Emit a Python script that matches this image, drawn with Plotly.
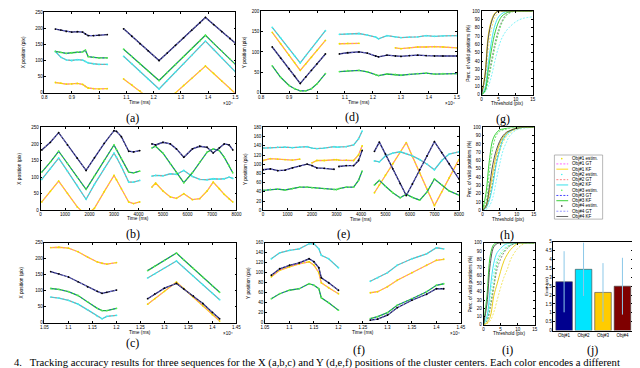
import plotly.graph_objects as go

W, H = 640, 368
FONT = "Liberation Sans"
SERIF = "Liberation Serif"

# ---------------- data ----------------
# Panel (a): X position vs time (x1e4 ms)
A_T = [0.84, 0.86, 0.88, 0.90, 0.92, 0.94, 0.95, 0.96, 0.98, 1.00, 1.03, None,
       1.09, 1.12, 1.15, 1.18, 1.22, 1.25, 1.28, 1.31, 1.34, 1.37, 1.39, 1.42, 1.45, 1.48, 1.50]
A_OBJ1 = [32, 30, 27, 28, 29, 26, 20, 15, 13, 12, 13, None,
          43, 25, 6, -13, -40, -23, 0, 23, 45, 68, 83, 60, 36, 13, -2]
A_OBJ2 = [128, 110, 102, 100, 103, 101, 97, 93, 90, 88, 88, None,
          113, 90, 66, 43, 12, 38, 64, 90, 116, 143, 160, 134, 108, 82, 65]
A_OBJ3 = [128, 125, 122, 124, 126, 127, 132, 112, 110, 108, 108, None,
          135, 113, 90, 68, 38, 63, 87, 112, 137, 161, 178, 153, 129, 104, 88]
A_OBJ4 = [197, 194, 190, 188, 189, 188, 182, 177, 177, 178, 180, None,
          198, 175, 152, 130, 100, 123, 147, 170, 194, 217, 233, 211, 189, 168, 153]

# Panel (d): Y position vs time (x1e4 ms)
D_T = [0.84, 0.87, 0.90, 0.92, 0.94, 0.96, 0.98, 1.00, 1.03, None,
       1.08, 1.11, 1.15, 1.18, 1.21, 1.22, 1.25, 1.28, 1.30, 1.33, 1.36, 1.39, 1.42, 1.45, 1.50]
D_OBJ1 = [148, 120, 92, 74, 55, 71, 87, 104, 128, None,
          120, 121, 121, None, None, None, None, 110, 108, 110, 112, 112, 113, 112, 110]
D_OBJ2 = [160, 134, 108, 90, 73, 91, 108, 126, 152, None,
          143, 144, 145, 141, 136, 132, 140, 137, 135, 136, 137, 140, 138, 139, 140]
D_OBJ3 = [66, 38, 18, 10, 5, 5, 10, 22, 47, None,
          52, 54, 55, 51, 44, 42, 46, 45, 43, 45, 47, 48, 46, 47, 47]
D_OBJ4 = [112, 85, 59, 41, 23, 39, 55, 71, 95, None,
          95, 98, 100, 97, 90, 88, 92, 90, 89, 91, 92, 91, 90, 90, 90]

# Panel (b): X position vs time (ms)
B_T = [50, 400, 740, 1100, 1500, 1860, 2200, 2600, 3000, 3100, 3300, 3600, 3800, 4050, None,
       4550, 4700, 5000, 5300, 5550, 5850, 6200, 6500, 6800, 7050, 7300, 7500, 7700, 7850]
B_OBJ1 = [25, 57, 88, 51, 10, -15, 6, 56, 105, 92, 65, 25, 20, 25, None,
          70, 82, 58, 40, 36, 50, 32, 35, 58, 85, 65, 48, 35, 25]
B_OBJ2 = [93, 125, 157, 118, 75, 33, 78, 125, 172, 160, 132, 85, 85, 90, None,
          103, 105, 104, 110, 108, 120, 102, 93, 92, 95, 94, 95, 100, 96]
B_OBJ3 = [115, 145, 178, 141, 100, 63, 103, 150, 197, 183, 156, 115, 113, 118, None,
          188, 193, 172, 140, 113, 83, 113, 145, 175, 185, 180, 160, 135, 113]
B_OBJ4 = [182, 205, 234, 197, 157, 120, 158, 202, 240, 238, 222, 178, 176, 180, None,
          200, 197, 205, 200, 185, 160, 185, 193, 190, 173, 188, 200, 197, 182]

# Panel (e): Y position vs time (ms)
E_T = [0, 300, 600, 900, 1200, 1500, 1800, 2000, 2200, 2500, 2900, 3000, 3100, 3400, 3700, 3900, 4050, None,
       4550, 4750, 5000, 5300, 5600, 5850, 6100, 6400, 6700, 7000, 7300, 7600, 8000]
E_OBJ1 = [108, 112, 111, 110, 109, 111, None, 103, 108, 108, 110, 110, 109, 109, 108, 120, 140, None,
          38, 55, 76, 101, 126, 147, 117, 81, 46, 10, 40, 70, 110]
E_OBJ2 = [135, 136, 137, 137, 136, 137, 138, 135, 134, 135, 138, 137, 137, 138, 142, 155, 172, None,
          107, 105, 118, 124, 127, 123, 118, 110, 100, 88, 108, 122, 127]
E_OBJ3 = [43, 45, 46, 44, 47, 50, 50, 49, 48, 47, 45, 45, 47, 50, 50, 65, 85, None,
          55, 65, 52, 38, 27, 35, 28, 22, 40, 68, 55, 42, 33]
E_OBJ4 = [88, 90, 86, 87, 92, 96, 100, 97, 92, 91, 89, None, 95, 97, 97, 108, 130, None,
          128, 148, 122, 90, 58, 32, 57, 88, 118, 149, 125, 101, 68]

# Panel (c): X position vs time (x1e4 ms)
C_T = [1.063, 1.08, 1.10, 1.12, 1.14, 1.16, 1.17, 1.18, 1.20, None,
       1.265, 1.28, 1.30, 1.325, 1.34, 1.36, 1.38, 1.40, 1.415]
C_OBJ1 = [235, 236, 233, 222, 205, 190, 186, 183, 188, None,
          58, 75, 98, 127, 107, 80, 53, 25, 5]
C_OBJ2 = [80, 77, 70, 58, 40, 20, 12, 20, 23, None,
          140, 153, 171, 193, 173, 146, 119, 92, 72]
C_OBJ3 = [107, 104, 97, 85, 65, 45, 38, 38, 45, None,
          163, 177, 195, 218, 197, 170, 142, 115, 95]
C_OBJ4 = [160, 153, 143, 128, 112, 98, 92, 95, 102, None,
          75, 90, 108, 123, 106, 84, 60, 32, 12]

# Panel (f): Y position vs time (x1e4 ms)
F_T = [1.063, 1.08, 1.10, 1.12, 1.14, 1.15, 1.16, 1.165, 1.18, 1.20, None,
       1.265, 1.28, 1.30, 1.32, 1.35, 1.38, 1.40, 1.415]
F_OBJ1 = [92, 105, 112, 118, 122, 115, 100, 80, 70, 58, None,
          60, 62, 72, 85, 100, 115, 125, 127]
F_OBJ2 = [128, 140, 145, 148, 158, 158, 148, 135, 128, 110, None,
          83, 90, 100, 115, 128, 138, 150, 148]
F_OBJ3 = [48, 58, 65, 68, 78, 75, 68, 50, 40, 25, None,
          8, 12, 20, 35, 48, 62, 75, 78]
F_OBJ4 = [95, 108, 115, 120, 128, 122, 110, 90, 80, 65, None,
          5, 7, 15, 30, 45, 57, 68, 68]

# CDF panels (g,h,i): % of valid positions vs threshold (pix)
THR = [0, 1, 2, 3, 4, 5, 6, 7, 8, 10, 12, 15]
G_OBJ1_KF = [0, 25, 72, 90, 98, 100, 100, 100, 100, 100, 100, 100]
G_OBJ1_EST = [0, 15, 55, 80, 93, 98, 100, 100, 100, 100, 100, 100]
G_OBJ2_KF = [0, 8, 38, 66, 84, 93, 97, 99, 100, 100, 100, 100]
G_OBJ2_EST = [0, 3, 10, 24, 42, 57, 68, 75, 80, 87, 91, 93]
G_OBJ3_KF = [0, 5, 30, 56, 75, 87, 94, 97, 99, 100, 100, 100]
G_OBJ3_EST = [0, 4, 18, 38, 58, 74, 86, 93, 97, 100, 100, 100]
G_OBJ4_KF = [0, 22, 68, 88, 97, 100, 100, 100, 100, 100, 100, 100]
G_OBJ4_EST = [0, 5, 22, 43, 63, 78, 88, 95, 98, 100, 100, 100]

H_OBJ1_KF = [0, 5, 22, 45, 66, 80, 88, 93, 96, 99, 100, 100]
H_OBJ1_EST = [0, 3, 15, 33, 55, 70, 82, 89, 93, 98, 100, 100]
H_OBJ2_KF = [0, 3, 12, 30, 55, 72, 85, 91, 95, 99, 100, 100]
H_OBJ2_EST = [0, 1, 5, 15, 35, 55, 72, 82, 90, 97, 99, 100]
H_OBJ3_KF = [0, 20, 60, 85, 93, 97, 98, 99, 100, 100, 100, 100]
H_OBJ3_EST = [0, 10, 45, 75, 90, 95, 97, 98, 99, 100, 100, 100]
H_OBJ4_KF = [0, 5, 28, 55, 72, 83, 90, 94, 96, 99, 100, 100]
H_OBJ4_EST = [0, 3, 15, 35, 58, 75, 86, 92, 95, 99, 100, 100]

I_OBJ1_KF = [0, 2, 10, 35, 50, 65, 78, 86, 92, 99, 100, 100]
I_OBJ1_EST = [0, 1, 5, 15, 30, 45, 58, 68, 80, 93, 99, 100]
I_OBJ2_KF = [0, 10, 45, 75, 88, 93, 97, 99, 100, 100, 100, 100]
I_OBJ2_EST = [0, 8, 35, 63, 80, 88, 93, 96, 98, 100, 100, 100]
I_OBJ3_KF = [0, 35, 85, 98, 100, 100, 100, 100, 100, 100, 100, 100]
I_OBJ3_EST = [0, 5, 25, 50, 75, 85, 90, 95, 97, 100, 100, 100]
I_OBJ4_KF = [0, 25, 75, 95, 99, 100, 100, 100, 100, 100, 100, 100]
I_OBJ4_EST = [0, 4, 20, 45, 68, 80, 88, 93, 97, 100, 100, 100]

# Panel (j): mean error per object
J_CATS = ["Obj#1", "Obj#2", "Obj#3", "Obj#4"]
J_MEAN = [2.75, 3.45, 2.15, 2.5]
J_STD = [1.72, 1.5, 1.65, 1.6]

# tick labels
TICK_A = [0.8, 0.9, 1.0, 1.1, 1.2, 1.3, 1.4, 1.5]
TICK_A_TXT = ["0.8", "0.9", "1", "1.1", "1.2", "1.3", "1.4", "1.5"]
TICK_C = [1.05, 1.1, 1.15, 1.2, 1.25, 1.3, 1.35, 1.4, 1.45]
TICK_C_TXT = ["1.05", "1.1", "1.15", "1.2", "1.25", "1.3", "1.35", "1.4", "1.45"]
TICK_B = [0, 1000, 2000, 3000, 4000, 5000, 6000, 7000, 8000]
TICK_THR = [0, 5, 10, 15]

LEG_NAMES = ["Obj#1 estim.", "Obj#1 GT", "Obj#1 KF",
             "Obj#2 estim.", "Obj#2 GT", "Obj#2 KF",
             "Obj#3 estim.", "Obj#3 GT", "Obj#3 KF",
             "Obj#4 estim.", "Obj#4 GT", "Obj#4 KF"]

# ---------------- styles ----------------
EST_COL = ["#ece000", "#40f0f0", "#55ee55", "#000000"]
GT_COL = ["#ff55ff", "#ff7070", "#3030ff", "#8888ff"]
KF_COL = ["#ffd400", "#22dde8", "#22cc22", "#1a1a55"]
CDF_KF = ["#e8c800", "#30e0f0", "#22cc22", "#404040"]
CDF_EST = ["#f0e040", "#60f0f8", "#44dd44", "#707070"]
BAR_COL = ["#00008f", "#00e5ff", "#ffcc00", "#7f0000"]

fig = go.Figure()


def ax_common():
    return dict(showline=True, linecolor="black", linewidth=0.6, mirror="ticks",
                ticks="inside", ticklen=2, tickwidth=0.5, tickcolor="black",
                showgrid=False, zeroline=False,
                tickfont=dict(family=FONT, size=4.5, color="black"))


def add_axes(n, xd, yd, xr, yr, xtv=None, xtt=None, ytv=None, ytt=None):
    xs = "xaxis" if n == 1 else f"xaxis{n}"
    ys = "yaxis" if n == 1 else f"yaxis{n}"
    xa = dict(ax_common(), domain=[xd[0] / W, xd[1] / W], range=xr,
              anchor="y" if n == 1 else f"y{n}")
    ya = dict(ax_common(), domain=[1 - yd[1] / H, 1 - yd[0] / H], range=yr,
              anchor="x" if n == 1 else f"x{n}")
    if xtv is not None:
        xa["tickvals"] = xtv
        if xtt is not None:
            xa["ticktext"] = xtt
    if ytv is not None:
        ya["tickvals"] = ytv
        if ytt is not None:
            ya["ticktext"] = ytt
    fig.update_layout({xs: xa, ys: ya})


def refs(n):
    return ("x" if n == 1 else f"x{n}", "y" if n == 1 else f"y{n}")


def add_tracks(n, t, objs):
    xr, yr = refs(n)
    for i, vals in enumerate(objs):
        fig.add_trace(go.Scatter(x=t, y=vals, mode="lines", xaxis=xr, yaxis=yr,
                                 line=dict(color=KF_COL[i], width=1.3),
                                 showlegend=False, hoverinfo="skip"))
        fig.add_trace(go.Scatter(x=t, y=vals, mode="lines", xaxis=xr, yaxis=yr,
                                 line=dict(color=GT_COL[i], width=0.8, dash="2px,2px"),
                                 showlegend=False, hoverinfo="skip"))
        fig.add_trace(go.Scatter(x=t, y=vals, mode="markers", xaxis=xr, yaxis=yr,
                                 marker=dict(color=EST_COL[i], size=1.8),
                                 showlegend=False, hoverinfo="skip"))


def add_cdf(n, kf, est):
    xr, yr = refs(n)
    order = [1, 2, 0, 3]
    for i in order:
        fig.add_trace(go.Scatter(x=THR, y=est[i], mode="lines", xaxis=xr, yaxis=yr,
                                 line=dict(color=CDF_EST[i], width=0.8, dash="2px,1.5px", shape="spline"),
                                 showlegend=False, hoverinfo="skip"))
    for i in order:
        fig.add_trace(go.Scatter(x=THR, y=kf[i], mode="lines", xaxis=xr, yaxis=yr,
                                 line=dict(color=CDF_KF[i], width=0.9, shape="spline"),
                                 showlegend=False, hoverinfo="skip"))


# panel geometry in pixels
PA = ((33, 227), (2, 84))
PD = ((253, 452), (1, 84))
PG = ((477, 529), (1, 86))
PB = ((29, 228), (119, 203))
PE = ((255, 454), (119, 203))
PH = ((478, 530), (119, 203))
PC = ((33, 228), (236, 317))
PF = ((257, 456), (236, 317))
PI = ((479, 531), (236, 319))
PJ = ((550, 631), (235, 325))

add_axes(1, *PA, [0.8, 1.5], [0, 250], TICK_A, TICK_A_TXT, [0, 50, 100, 150, 200, 250])
add_axes(2, *PD, [0.8, 1.5], [0, 200], TICK_A, TICK_A_TXT, [0, 50, 100, 150, 200])
add_axes(3, *PG, [0, 15], [0, 100], TICK_THR, None, list(range(0, 101, 10)))
add_axes(4, *PB, [0, 8000], [0, 250], TICK_B, None, [0, 50, 100, 150, 200, 250])
add_axes(5, *PE, [0, 8000], [0, 180], TICK_B, None, list(range(0, 181, 20)))
add_axes(6, *PH, [0, 15], [0, 100], TICK_THR, None, list(range(0, 101, 10)))
add_axes(7, *PC, [1.05, 1.45], [0, 250], TICK_C, TICK_C_TXT, [0, 50, 100, 150, 200, 250])
add_axes(8, *PF, [1.05, 1.45], [0, 160], TICK_C, TICK_C_TXT, list(range(0, 161, 20)))
add_axes(9, *PI, [0, 15], [0, 100], TICK_THR, None, list(range(0, 101, 10)))
add_axes(10, *PJ, [-0.55, 3.55], [0, 5], None, None,
         [0, 0.5, 1, 1.5, 2, 2.5, 3, 3.5, 4, 4.5, 5],
         ["0", "0.5", "1", "1.5", "2", "2.5", "3", "3.5", "4", "4.5", "5"])
fig.update_layout(xaxis10=dict(type="category", ticks=""))

add_tracks(1, A_T, [A_OBJ1, A_OBJ2, A_OBJ3, A_OBJ4])
add_tracks(2, D_T, [D_OBJ1, D_OBJ2, D_OBJ3, D_OBJ4])
add_tracks(4, B_T, [B_OBJ1, B_OBJ2, B_OBJ3, B_OBJ4])
add_tracks(5, E_T, [E_OBJ1, E_OBJ2, E_OBJ3, E_OBJ4])
add_tracks(7, C_T, [C_OBJ1, C_OBJ2, C_OBJ3, C_OBJ4])
add_tracks(8, F_T, [F_OBJ1, F_OBJ2, F_OBJ3, F_OBJ4])
add_cdf(3, [G_OBJ1_KF, G_OBJ2_KF, G_OBJ3_KF, G_OBJ4_KF], [G_OBJ1_EST, G_OBJ2_EST, G_OBJ3_EST, G_OBJ4_EST])
add_cdf(6, [H_OBJ1_KF, H_OBJ2_KF, H_OBJ3_KF, H_OBJ4_KF], [H_OBJ1_EST, H_OBJ2_EST, H_OBJ3_EST, H_OBJ4_EST])
add_cdf(9, [I_OBJ1_KF, I_OBJ2_KF, I_OBJ3_KF, I_OBJ4_KF], [I_OBJ1_EST, I_OBJ2_EST, I_OBJ3_EST, I_OBJ4_EST])

fig.add_trace(go.Bar(x=J_CATS, y=J_MEAN, xaxis="x10", yaxis="y10", width=0.85,
                     marker=dict(color=BAR_COL, line=dict(color="#404040", width=0.6)),
                     error_y=dict(type="data", array=J_STD, color="#8cc8e8", thickness=1, width=0),
                     showlegend=False, hoverinfo="skip"))

ann = []
shapes = []


def txt(x, y, s, size=4.8, angle=0, family=FONT, xanchor="center", color="black"):
    ann.append(dict(x=x / W, y=1 - y / H, xref="paper", yref="paper", text=s, showarrow=False,
                    textangle=angle, xanchor=xanchor, yanchor="middle",
                    font=dict(family=family, size=size, color=color)))


# axis titles
for (xd, yd), ytitle, xt_off, yt_off in [
        (PA, "X position (pix)", 10, 21), (PD, "Y position (pix)", 10, 16),
        (PB, "X position (pix)", 8, 21), (PE, "Y position (pix)", 9, 17),
        (PC, "X position (pix)", 10, 23), (PF, "Y position (pix)", 10, 17)]:
    txt((xd[0] + xd[1]) / 2, yd[1] + xt_off, "Time (ms)")
    txt(xd[0] - yt_off, (yd[0] + yd[1]) / 2, ytitle, angle=-90)
for (xd, yd) in [PG, PH, PI]:
    txt((xd[0] + xd[1]) / 2, yd[1] + 9, "Threshold (pix)")
    txt(xd[0] - 13, (yd[0] + yd[1]) / 2, "Perc. of valid positions (%)", angle=-90)
txt(PJ[0][0] - 7, (PJ[1][0] + PJ[1][1]) / 2, "Error (pix)", angle=-90, size=4.2)

# x10^4 multipliers
for x, y in [(219, 95), (445, 95), (219, 328), (450, 328)]:
    txt(x, y, "×10⁴", size=4.5)

# sub-figure captions
for s, x, y in [("(a)", 122, 109), ("(d)", 345, 108), ("(g)", 499, 110),
                ("(b)", 123, 227), ("(e)", 337, 227), ("(h)", 503, 228),
                ("(c)", 122, 338), ("(f)", 353, 345), ("(i)", 503, 345), ("(j)", 590, 345)]:
    txt(x, y, s, size=12, family=SERIF)

# figure caption
txt(0, 357, "4.   Tracking accuracy results for three sequences for the X (a,b,c) and Y (d,e,f) positions of the cluster centers. Each color encodes a different",
    size=10.7, family=SERIF, xanchor="left")

# legend (drawn by hand)
LX0, LX1, LY0, LY1 = 551, 600, 147, 212
shapes.append(dict(type="rect", xref="paper", yref="paper", x0=LX0 / W, x1=LX1 / W,
                   y0=1 - LY1 / H, y1=1 - LY0 / H, line=dict(color="#999999", width=0.7),
                   fillcolor="white"))
for k, name in enumerate(LEG_NAMES):
    obj, kind = divmod(k, 3)
    yy = 150.7 + k * 5.33
    if kind == 0:
        shapes.append(dict(type="circle", xref="paper", yref="paper",
                           x0=(558.5 - 0.8) / W, x1=(558.5 + 0.8) / W,
                           y0=1 - (yy + 0.8) / H, y1=1 - (yy - 0.8) / H,
                           fillcolor=EST_COL[obj], line=dict(width=0)))
    elif kind == 1:
        shapes.append(dict(type="line", xref="paper", yref="paper", x0=553 / W, x1=565 / W,
                           y0=1 - yy / H, y1=1 - yy / H,
                           line=dict(color=GT_COL[obj], width=0.9, dash="2px,1.5px")))
    else:
        shapes.append(dict(type="line", xref="paper", yref="paper", x0=553 / W, x1=565 / W,
                           y0=1 - yy / H, y1=1 - yy / H,
                           line=dict(color=KF_COL[obj] if obj < 3 else "#555555", width=0.9)))
    txt(567, yy, name, size=4.6, xanchor="left")

fig.update_layout(width=W, height=H, autosize=False,
                  margin=dict(l=0, r=0, t=0, b=0),
                  paper_bgcolor="white", plot_bgcolor="white",
                  annotations=ann, shapes=shapes, showlegend=False,
                  font=dict(family=FONT, color="black"))

fig.write_html("out.html")
